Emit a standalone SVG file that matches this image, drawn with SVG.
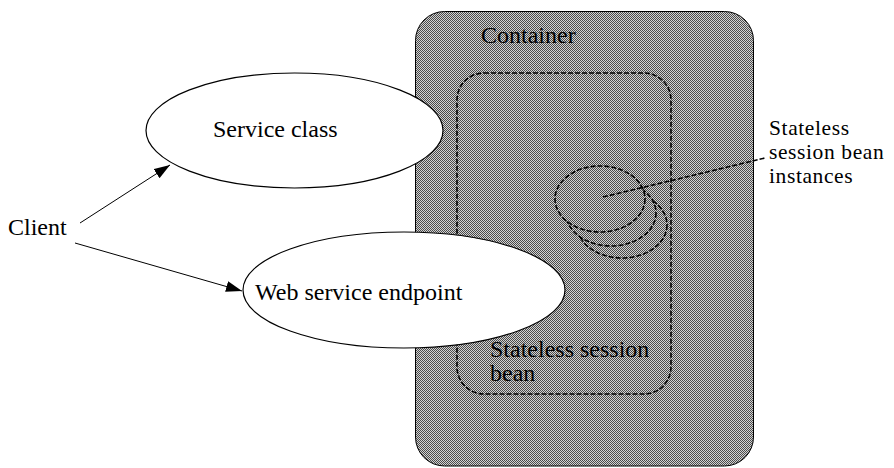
<svg xmlns="http://www.w3.org/2000/svg" width="894" height="468" viewBox="0 0 894 468">
  <defs>
    <pattern id="dither" patternUnits="userSpaceOnUse" width="2" height="2">
      <rect width="2" height="2" fill="#d2d2d2"/>
      <rect x="0" y="0" width="1" height="1" fill="#4a4a4a"/>
      <rect x="1" y="1" width="1" height="1" fill="#4a4a4a"/>
    </pattern>
    <marker id="arrow" markerUnits="userSpaceOnUse" markerWidth="17" markerHeight="12" refX="16" refY="5.5" orient="auto">
      <path d="M0,0 L16,5.5 L0,11 Z" fill="#000"/>
    </marker>
  </defs>
  <style>
    text { font-family: "Liberation Serif", "Times New Roman", serif; font-size: 24px; fill: #000; }
    .label { font-size: 21.5px; letter-spacing: 0.6px; }
    .solid { fill: none; stroke: #000; stroke-width: 1; }
    .dash { fill: none; stroke: #000; stroke-width: 1.6; stroke-dasharray: 5 2; }
    .bubble { fill: #fff; stroke: #000; stroke-width: 1.2; }
    .inst { fill: url(#dither); stroke: #000; stroke-width: 1.6; stroke-dasharray: 5 2; }
  </style>

  <g id="container">
    <rect x="415.5" y="11.5" width="338" height="454.5" rx="29" ry="29" fill="url(#dither)" stroke="#000" stroke-width="1"/>
    <text x="481" y="43">Container</text>
  </g>

  <g id="stateless-session-bean">
    <rect x="457" y="73" width="214" height="321" rx="27" ry="27" class="dash"/>
    <text x="490" y="357">Stateless session</text>
    <text x="490" y="381">bean</text>
  </g>

  <g id="bean-instances">
    <ellipse cx="622" cy="225" rx="45" ry="33" class="inst"/>
    <ellipse cx="611" cy="213" rx="45" ry="33" class="inst"/>
    <ellipse cx="600" cy="199" rx="45" ry="33" class="inst"/>
  </g>

  <g id="service-class">
    <ellipse cx="294.5" cy="130.5" rx="148.5" ry="57.5" class="bubble"/>
    <text x="213" y="137">Service class</text>
  </g>

  <g id="web-service-endpoint">
    <ellipse cx="404" cy="290" rx="161" ry="58" class="bubble"/>
    <text x="255" y="300">Web service endpoint</text>
  </g>

  <g id="client">
    <text x="8" y="235">Client</text>
  </g>

  <g id="instances-label">
    <text class="label" x="769" y="135">Stateless</text>
    <text class="label" x="769" y="159">session bean</text>
    <text class="label" x="769" y="183">instances</text>
  </g>

  <g id="connectors">
    <line x1="80" y1="223" x2="170" y2="165" class="solid" marker-end="url(#arrow)"/>
    <line x1="75" y1="243" x2="242" y2="291" class="solid" marker-end="url(#arrow)"/>
    <line x1="603" y1="197" x2="765" y2="158" class="dash" stroke-width="1.4"/>
  </g>
</svg>
